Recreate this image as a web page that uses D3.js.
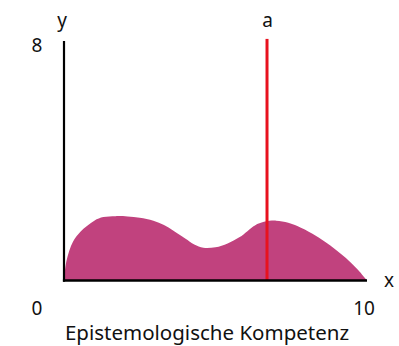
<!DOCTYPE html>
<html><head><meta charset="utf-8">
<script src="https://cdn.jsdelivr.net/npm/d3@7"></script>
<style>body{margin:0;background:#fff}svg{display:block}text{font-family:"Noto Sans",sans-serif;font-size:19px;fill:#111}</style>
</head><body><svg id="c" width="399" height="346"></svg>
<script>
const xValues = [0, 0.08, 0.3, 0.55, 1.0, 1.3, 1.7, 2.1, 2.5, 2.95, 3.3, 3.6, 4.0, 4.3, 4.6, 5.0, 5.4, 5.8, 6.3, 6.6, 7.0, 7.4, 7.7, 8.2, 8.6, 9.0, 9.4, 9.7, 10];
const yValues = [0, 0.65, 1.3, 1.64, 2.0, 2.12, 2.15, 2.14, 2.1, 2.0, 1.85, 1.67, 1.4, 1.2, 1.09, 1.11, 1.24, 1.45, 1.84, 1.96, 2.0, 1.93, 1.82, 1.56, 1.3, 1.0, 0.66, 0.36, 0];
const markerX = 6.7;
const markerLabel = "a";
const xDomain = [0, 10];
const yDomain = [0, 8];
const xTickLabels = ["0", "10"];
const yTickLabel = "8";
const xTitle = "Epistemologische Kompetenz";

const svg = d3.select("#c");
const x = d3.scaleLinear().domain(xDomain).range([64, 367]);
const y = d3.scaleLinear().domain(yDomain).range([280.5, 41]);
const data = xValues.map((v, i) => ({x: v, y: yValues[i]}));

svg.append("path").datum(data)
  .attr("fill", "#C1427E")
  .attr("d", d3.area().x(d => x(d.x)).y0(y(0)).y1(d => y(d.y)).curve(d3.curveCatmullRom.alpha(0.5)));

svg.append("line").attr("x1", x(markerX)).attr("x2", x(markerX))
  .attr("y1", y(8.07)).attr("y2", y(0)).attr("stroke", "#E8121E").attr("stroke-width", 3);

svg.append("line").attr("x1", x(0)).attr("x2", x(0)).attr("y1", y(8)).attr("y2", y(0) + 1.2)
  .attr("stroke", "#000").attr("stroke-width", 2.2);
svg.append("line").attr("x1", x(0) - 1.1).attr("x2", x(10)).attr("y1", y(0)).attr("y2", y(0))
  .attr("stroke", "#000").attr("stroke-width", 2.6);

svg.append("text").attr("x", 62).attr("y", 27).attr("text-anchor", "middle").text("y");
svg.append("text").attr("x", x(markerX) + 0.5).attr("y", 27).attr("text-anchor", "middle").text(markerLabel);
svg.append("text").attr("x", 37).attr("y", 52).attr("text-anchor", "middle").text(yTickLabel);
svg.append("text").attr("x", 389).attr("y", 287).attr("text-anchor", "middle").text("x");
svg.append("text").attr("x", 37).attr("y", 315).attr("text-anchor", "middle").text(xTickLabels[0]);
svg.append("text").attr("x", 364).attr("y", 315).attr("text-anchor", "middle").text(xTickLabels[1]);
svg.append("text").attr("x", 207).attr("y", 340).attr("text-anchor", "middle").style("font-size", "20.5px").text(xTitle);
</script></body></html>
